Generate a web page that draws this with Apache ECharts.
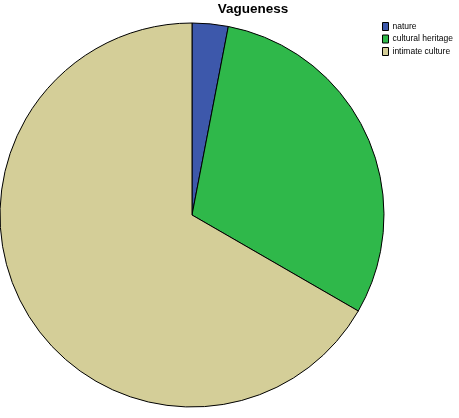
<!DOCTYPE html>
<html>
<head>
<meta charset="utf-8">
<script src="https://cdn.jsdelivr.net/npm/echarts@6/dist/echarts.min.js"></script>
<style>
  html, body { margin: 0; padding: 0; background: #fff; }
  #chart { width: 459px; height: 418px; }
</style>
</head>
<body>
<div id="chart"></div>
<script>
const categories = ['nature', 'cultural heritage', 'intimate culture'];
const counts = [1, 10, 22];
const colors = ['#3d58ab', '#2fb84a', '#d4ce98'];

const chart = echarts.init(document.getElementById('chart'));

chart.setOption({
  animation: false,
  color: colors,
  title: {
    text: 'Vagueness',
    left: 253,
    textAlign: 'center',
    top: 2,
    padding: 0,
    textStyle: {
      fontFamily: 'Liberation Sans, Arial, sans-serif',
      fontSize: 13.5,
      fontWeight: 'bold',
      color: '#000'
    }
  },
  legend: {
    orient: 'vertical',
    left: 382,
    top: 22,
    padding: 0,
    itemWidth: 6,
    itemHeight: 8,
    itemGap: 3.5,
    icon: 'rect',
    itemStyle: { borderColor: '#000', borderWidth: 1 },
    textStyle: {
      fontFamily: 'Liberation Sans, Arial, sans-serif',
      fontSize: 8.5,
      color: '#000',
      padding: [0, 0, 0, -1]
    },
    data: categories
  },
  series: [{
    type: 'pie',
    center: [192, 215],
    radius: 192,
    startAngle: 90,
    clockwise: true,
    label: { show: false },
    labelLine: { show: false },
    emphasis: { disabled: true },
    itemStyle: { borderColor: '#000', borderWidth: 1 },
    data: categories.map((name, i) => ({ name, value: counts[i] }))
  }]
});
</script>
</body>
</html>
